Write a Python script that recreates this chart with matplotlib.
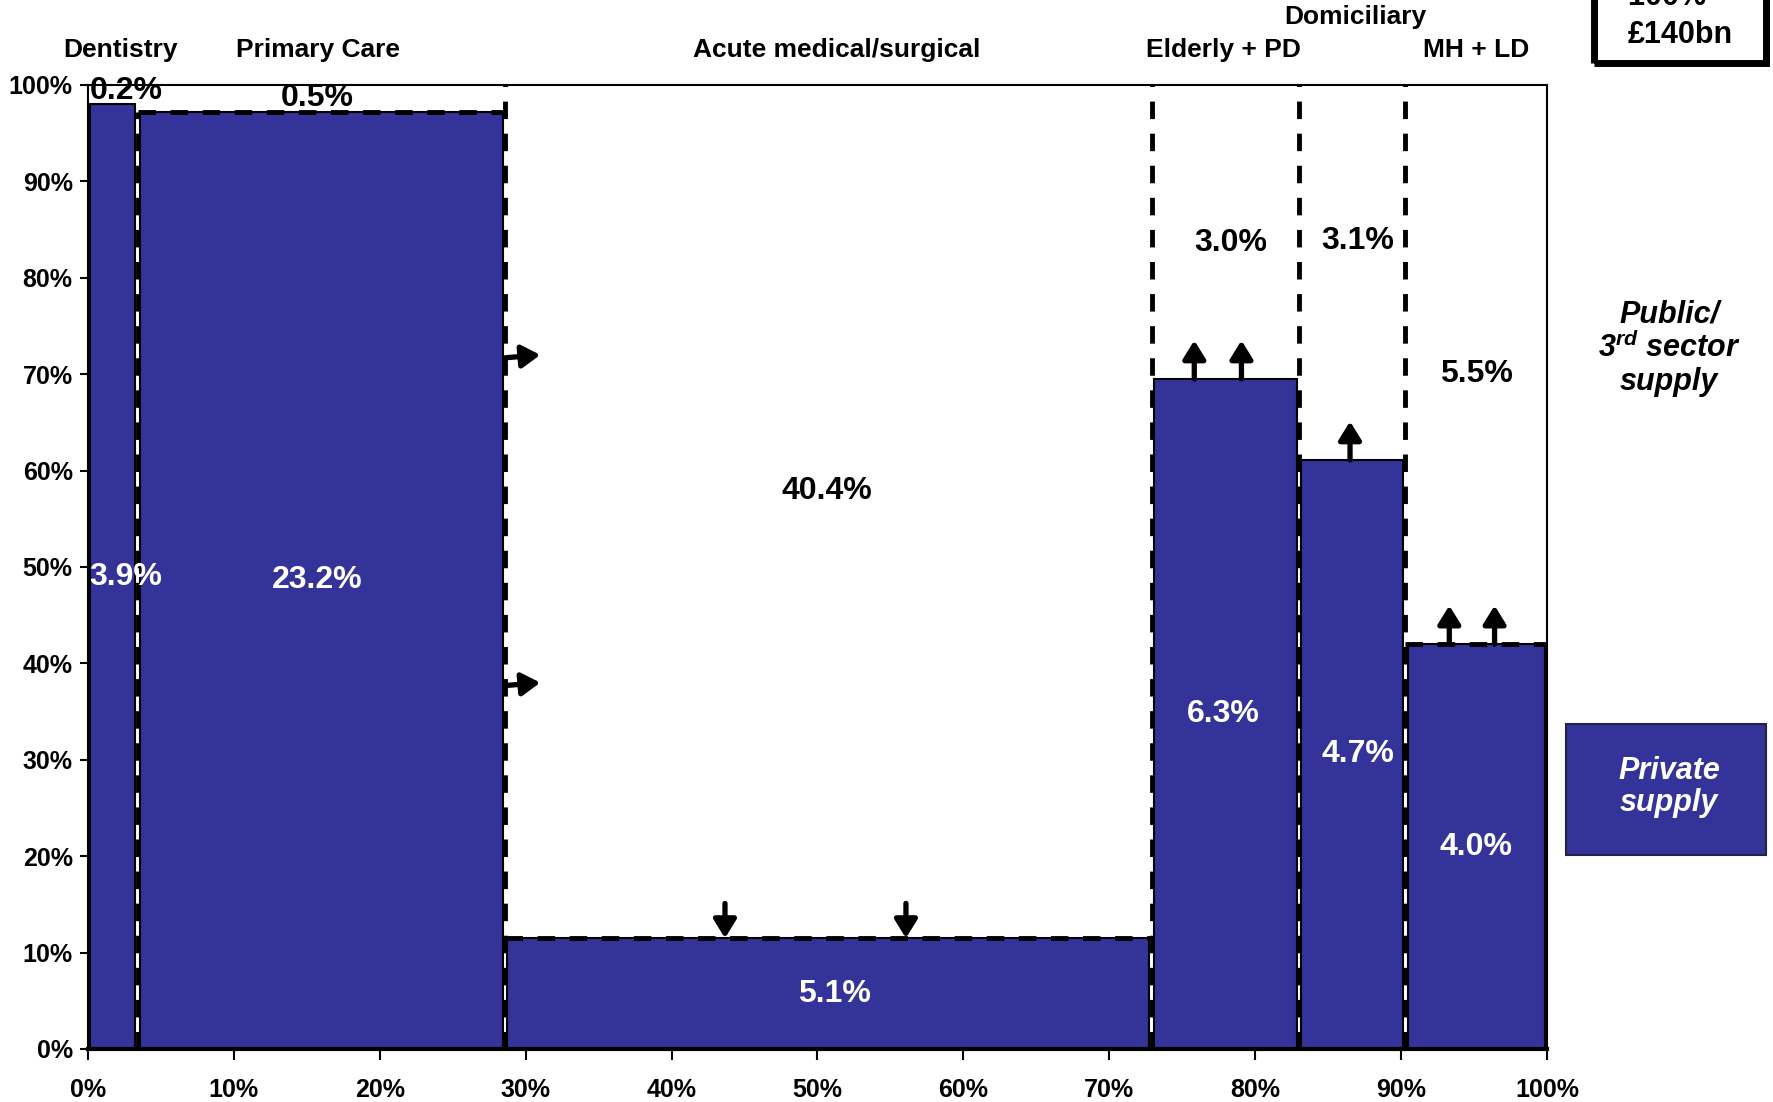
import matplotlib
matplotlib.use('Agg')
import matplotlib.pyplot as plt
from matplotlib.patches import Rectangle

plt.rcParams['font.family'] = ['Liberation Sans', 'DejaVu Sans']
plt.rcParams['font.weight'] = 'bold'
plt.rcParams['mathtext.fontset'] = 'custom'
plt.rcParams['mathtext.it'] = 'Liberation Sans:italic:bold'
plt.rcParams['mathtext.rm'] = 'Liberation Sans:bold'

# segment widths as cumulative % of total spend
edges = [0, 3.4, 28.6, 72.9, 83.0, 90.3, 100]
categories = ['Dentistry', 'Primary Care', 'Acute medical/surgical',
              'Elderly + PD', '', 'MH + LD']
private_share = [98.0, 97.2, 11.5, 69.5, 61.1, 42.0]
private_lbl = ['3.9%', '23.2%', '5.1%', '6.3%', '4.7%', '4.0%']
public_lbl = ['0.2%', '0.5%', '40.4%', '3.0%', '3.1%', '5.5%']

# label layout (y in axis %, x nudges in %)
public_y = [99.4, 98.6, 57.9, 83.6, 83.8, 70.0]
public_dx = [0.9, -0.3, -0.1, 0.4, 0.4, 0]
private_dx = [0.9, -0.3, 0.4, -0.1, 0.4, 0]
cat_dx = [0.5, -0.2, 0.6, -0.1, 0, 0]

# direction arrows: (segment, position inside segment 0..1, direction)
arrows = [(3, 0.29, 'up'), (3, 0.61, 'up'), (4, 0.48, 'up'),
          (5, 0.31, 'up'), (5, 0.63, 'up'),
          (2, 0.34, 'down'), (2, 0.62, 'down')]
shift_right = [72, 38]

BLUE = '#333399'

fig = plt.figure(figsize=(17.73, 11.02), dpi=100)
ax = fig.add_axes([0.0496, 0.0481, 0.8229, 0.8748])

lefts = edges[:-1]
widths = [edges[i + 1] - edges[i] for i in range(len(lefts))]
gap = 0.3
ax.bar([l + gap / 2 for l in lefts], private_share, [w - gap for w in widths],
       align='edge', color=BLUE, edgecolor='black', lw=1.5, zorder=2)

dash = dict(color='black', lw=3.5, ls=(0, (3.6, 3.0)), zorder=3)
# vertical dividers
ax.plot([edges[1], edges[1]], [0, private_share[1]], **dash)
for e in edges[2:-1]:
    ax.plot([e, e], [0, 100], **dash)
# dashed tops
for i in (1, 2, 5):
    ax.plot([edges[i], edges[i + 1]], [private_share[i]] * 2, **dash)

fs = 23
for i in range(len(lefts)):
    cx = (edges[i] + edges[i + 1]) / 2
    ax.text(cx + private_dx[i], private_share[i] / 2, private_lbl[i], color='white',
            ha='center', va='center', fontsize=fs, fontweight='bold', zorder=5)
    ax.text(cx + public_dx[i], public_y[i], public_lbl[i], color='black',
            ha='center', va='center', fontsize=fs, fontweight='bold', zorder=5)
    if categories[i]:
        ax.text(cx + cat_dx[i], 103.6, categories[i], ha='center', va='center',
                fontsize=19, fontweight='bold', clip_on=False)
ax.text((edges[3] + edges[6]) / 2 + 0.4, 107.0, 'Domiciliary', ha='center',
        va='center', fontsize=19, fontweight='bold', clip_on=False)

aprops = dict(arrowstyle='-|>,head_width=0.34,head_length=0.55', lw=3.8,
              color='black', shrinkA=0, shrinkB=0, mutation_scale=20)
for seg, frac, d in arrows:
    x = edges[seg] + frac * (edges[seg + 1] - edges[seg])
    h = private_share[seg]
    if d == 'up':
        ax.annotate('', xy=(x, h + 4.0), xytext=(x, h), arrowprops=aprops, zorder=6)
    else:
        ax.annotate('', xy=(x, h), xytext=(x, h + 3.6), arrowprops=aprops, zorder=6)
for y in shift_right:
    ax.annotate('', xy=(edges[2] + 2.4, y), xytext=(edges[2], y - 0.3),
                arrowprops=aprops, zorder=6)

ax.set_xlim(0, 100)
ax.set_ylim(0, 100)
ticks = list(range(0, 101, 10))
ax.set_xticks(ticks)
ax.set_xticklabels([f'{t}%' for t in ticks], fontsize=18, fontweight='bold')
ax.set_yticks(ticks)
ax.set_yticklabels([f'{t}%' for t in ticks], fontsize=18, fontweight='bold')
ax.tick_params(axis='x', direction='out', length=8, width=1.5, pad=13)
ax.tick_params(axis='y', direction='out', length=6, width=1.5, pad=5)
ax.spines['bottom'].set_linewidth(3)
for s in ('top', 'right', 'left'):
    ax.spines[s].set_linewidth(1.5)

# "100% = £140bn" box, cut by top edge as in the source slide
fig.patches.append(Rectangle((0.899, 0.943), 0.097, 0.1, transform=fig.transFigure,
                             fill=False, edgecolor='black', lw=5, clip_on=False))
fig.text(0.9475, 0.968, '£140bn', ha='center', va='center', fontsize=22,
         fontweight='bold')
fig.text(0.9475, 1.003, '100% =', ha='center', va='center', fontsize=22,
         fontweight='bold')

fig.text(0.9414, 0.684, 'Public/\n3$^{rd}$ sector\nsupply', ha='center',
         va='center', fontsize=22, fontweight='bold', style='italic',
         linespacing=1.1)

fig.patches.append(Rectangle((0.883, 0.224), 0.1128, 0.119, transform=fig.transFigure,
                             facecolor=BLUE, edgecolor='#222244', lw=1.5))
fig.text(0.9414, 0.286, 'Private\nsupply', ha='center', va='center', fontsize=22,
         fontweight='bold', style='italic', color='white', linespacing=1.1)

fig.savefig('out.png', dpi=100)
